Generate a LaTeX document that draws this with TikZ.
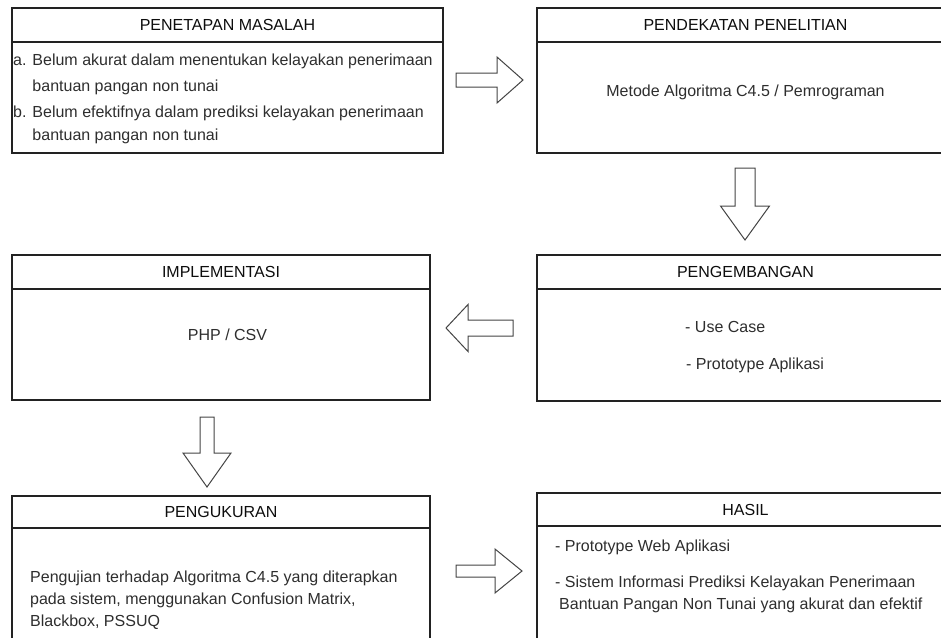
\documentclass[tikz,border=0pt]{standalone}
\usepackage{fontspec}
\setmainfont{Liberation Sans}
\definecolor{boxline}{HTML}{222222}
\definecolor{arrowline}{HTML}{444444}
\definecolor{headtext}{HTML}{0D0D0D}
\definecolor{bodytext}{HTML}{2E2E2E}
\tikzset{
  panel/.style={draw=boxline, line width=1.2pt, fill=white, inner sep=0pt,
    outer sep=0pt, anchor=north west},
  headtxt/.style={font=\fontsize{16}{19}\selectfont, text=headtext},
  bodytxt/.style={font=\fontsize{16}{22}\selectfont, text=bodytext, inner sep=0pt},
  blockarrow/.style={draw=arrowline, line width=1pt, fill=white, line join=miter},
}
\begin{document}
\begin{tikzpicture}[x=1pt, y=-1pt]
\useasboundingbox (0,0) rectangle (941,637);
\clip (0,0) rectangle (941,637);

% ---- panels: title strip + body ----
\node[panel, headtxt, minimum width=431pt, minimum height=34pt] (masalahH) at (12,8) {PENETAPAN MASALAH};
\node[panel, minimum width=431pt, minimum height=111pt] (masalah) at (12,42) {};

\node[panel, headtxt, minimum width=417pt, minimum height=34pt] (pendekatanH) at (537,8) {PENDEKATAN PENELITIAN};
\node[panel, minimum width=417pt, minimum height=111pt] (pendekatan) at (537,42) {};

\node[panel, headtxt, minimum width=418pt, minimum height=34pt] (implementasiH) at (12,255) {IMPLEMENTASI};
\node[panel, minimum width=418pt, minimum height=111pt] (implementasi) at (12,289) {};

\node[panel, headtxt, minimum width=417pt, minimum height=34pt] (pengembanganH) at (537,255) {PENGEMBANGAN};
\node[panel, minimum width=417pt, minimum height=112pt] (pengembangan) at (537,289) {};

\node[panel, headtxt, minimum width=418pt, minimum height=32pt] (pengukuranH) at (12,496) {PENGUKURAN};
\node[panel, minimum width=418pt, minimum height=140pt] (pengukuran) at (12,528) {};

\node[panel, headtxt, minimum width=417pt, minimum height=33pt] (hasilH) at (537,493) {HASIL};
\node[panel, minimum width=417pt, minimum height=140pt] (hasil) at (537,526) {};

% ---- panel contents ----
\node[bodytxt, anchor=base west, font=\fontsize{16}{23}\selectfont] (masalahL) at (13,65)
  {\begin{tabular}[t]{@{}l@{ }l@{}}
   a. & Belum akurat dalam menentukan kelayakan penerimaan\\[3pt]
      & bantuan pangan non tunai\\[3pt]
   b. & Belum efektifnya dalam prediksi kelayakan penerimaan\\
      & bantuan pangan non tunai
   \end{tabular}};

\node[bodytxt, anchor=base] (pendekatanL) at (745.5,96.5) {Metode Algoritma C4.5 / Pemrograman};

\node[bodytxt, anchor=base west] (usecase) at (685,332.5) {- Use Case};
\node[bodytxt, anchor=base west] (prototipe) at (686,369.5) {- Prototype Aplikasi};

\node[bodytxt, anchor=base] (implementasiL) at (227.5,340.5) {PHP / CSV};

\node[bodytxt, anchor=base west] (pengukuranL) at (30,582.5)
  {\begin{tabular}[t]{@{}l@{}}
   Pengujian terhadap Algoritma C4.5 yang diterapkan\\
   pada sistem, menggunakan Confusion Matrix,\\
   Blackbox, PSSUQ
   \end{tabular}};

\node[bodytxt, anchor=base west] (hasilA) at (555,551.5) {- Prototype Web Aplikasi};
\node[bodytxt, anchor=base west] (hasilB) at (555,587.5)
  {\begin{tabular}[t]{@{}l@{}}
   - Sistem Informasi Prediksi Kelayakan Penerimaan\\
   \hspace{4pt}Bantuan Pangan Non Tunai yang akurat dan efektif
   \end{tabular}};

% ---- block arrows between the stages ----
\coordinate (arrA) at (456,80);
\draw[blockarrow] (arrA) ++(0,-7) -- ++(41,0) -- ++(0,-16) -- ++(26,23)
  -- ++(-26,23) -- ++(0,-16) -- ++(-41,0) -- cycle;

\coordinate (arrB) at (745,168);
\draw[blockarrow] (arrB) ++(-10,0) -- ++(20,0) -- ++(0,38) -- ++(14.5,0)
  -- ++(-24.5,34) -- ++(-24.5,-34) -- ++(14.5,0) -- cycle;

\coordinate (arrC) at (446,328);
\draw[blockarrow] (arrC) -- ++(22,-23.5) -- ++(0,15.5) -- ++(45,0) -- ++(0,16)
  -- ++(-45,0) -- ++(0,15.5) -- cycle;

\coordinate (arrD) at (207,417);
\draw[blockarrow] (arrD) ++(-7,0) -- ++(14,0) -- ++(0,36) -- ++(17,0)
  -- ++(-24,34) -- ++(-24,-34) -- ++(17,0) -- cycle;

\coordinate (arrE) at (456,571);
\draw[blockarrow] (arrE) ++(0,-6) -- ++(39,0) -- ++(0,-16) -- ++(27,22)
  -- ++(-27,22) -- ++(0,-16) -- ++(-39,0) -- cycle;
\end{tikzpicture}
\end{document}
